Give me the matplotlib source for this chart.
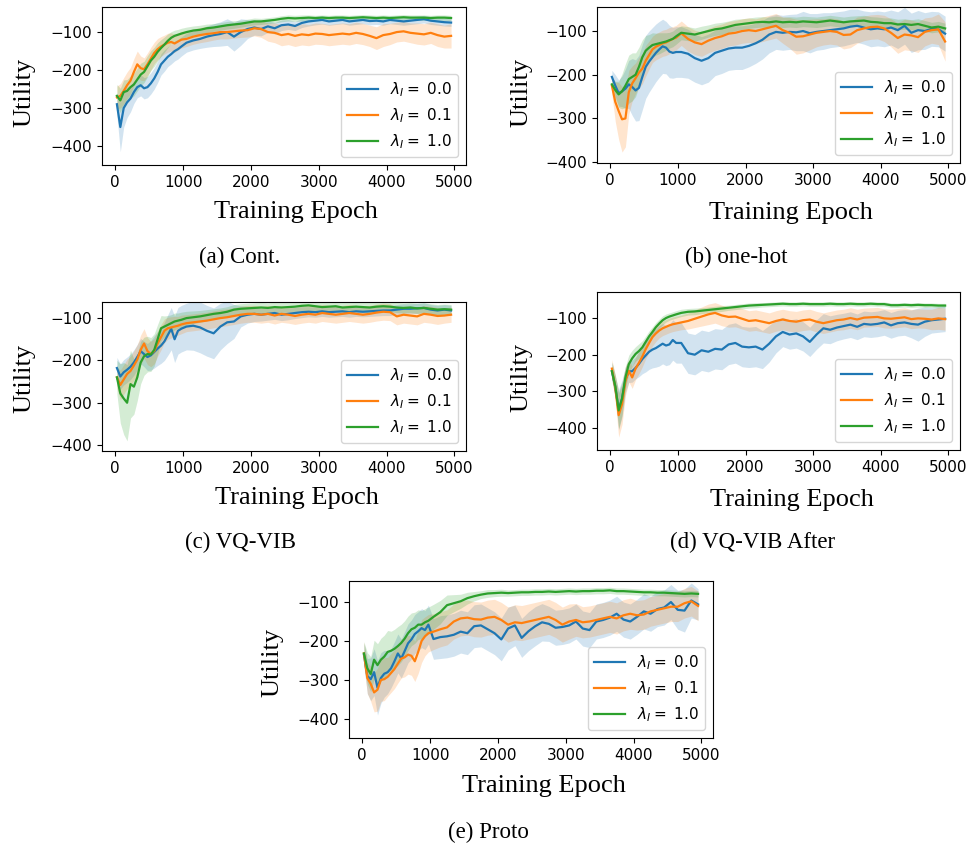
import matplotlib
matplotlib.use("Agg")
from matplotlib import pyplot as plt
import numpy as np

# epochs at which the running utility was logged (denser early on)
epochs = list(range(25, 1000, 50)) + list(range(1050, 5000, 100))
lambdas = ["0.0", "0.1", "1.0"]
colors = ["tab:blue", "tab:orange", "tab:green"]

# ---- (a) Cont. ----
cont_00 = [-290, -350, -300, -285, -275, -258, -245, -240, -248, -245, -235, -222, -205, -185, -175, -165, -158, -150, -145, -138,
           -128, -122, -118, -112, -108, -105, -100, -112, -100, -92, -88, -92, -85, -90, -82, -80, -84, -76, -72, -70,
           -68, -72, -70, -68, -72, -70, -68, -71, -70, -72, -68, -70, -72, -70, -68, -66, -70, -72, -74, -75]
cont_01 = [-272, -268, -255, -240, -228, -205, -185, -195, -198, -185, -170, -155, -145, -138, -133, -128, -126, -130, -125, -120,
           -118, -112, -108, -105, -103, -100, -100, -98, -96, -95, -90, -92, -100, -102, -108, -105, -110, -106, -108, -104,
           -105, -108, -106, -104, -106, -102, -105, -110, -116, -108, -105, -100, -98, -102, -104, -106, -102, -108, -112, -110]
cont_10 = [-268, -280, -258, -255, -245, -238, -225, -212, -205, -190, -175, -165, -152, -142, -133, -123, -115, -110, -107, -104,
           -100, -96, -94, -90, -88, -85, -82, -80, -78, -75, -72, -72, -70, -68, -65, -63, -64, -63, -62, -63,
           -62, -63, -62, -62, -63, -62, -61, -62, -63, -62, -63, -62, -61, -62, -62, -62, -63, -62, -62, -63]
cont_00_sd = [30, 65, 50, 40, 35, 30, 28, 28, 28, 28, 28, 28, 28, 28, 28, 26, 26, 26, 26, 25,
              25, 25, 25, 28, 30, 32, 35, 38, 35, 25, 20, 18, 16, 15, 14, 13, 12, 12, 12, 11,
              11, 10, 10, 10, 10, 10, 10, 10, 10, 10, 10, 10, 10, 10, 10, 10, 10, 10, 10, 10]
cont_01_sd = [30, 32, 35, 35, 35, 35, 35, 32, 30, 30, 30, 28, 28, 26, 25, 25, 24, 24, 22, 22,
              20, 20, 20, 20, 18, 18, 18, 18, 18, 18, 20, 22, 24, 26, 28, 28, 28, 28, 28, 28,
              28, 28, 28, 28, 28, 28, 28, 28, 30, 30, 28, 26, 26, 26, 28, 28, 28, 30, 30, 32]
cont_10_sd = [30, 32, 32, 30, 30, 30, 30, 30, 28, 28, 26, 25, 24, 22, 20, 18, 16, 15, 14, 14,
              13, 12, 12, 11, 10, 10, 10, 10, 9, 9, 9, 8, 8, 8, 8, 8, 8, 8, 7, 7,
              7, 7, 7, 7, 7, 7, 7, 7, 7, 7, 7, 7, 7, 7, 7, 7, 7, 7, 7, 7]

# ---- (b) one-hot ----
onehot_00 = [-205, -225, -242, -238, -232, -222, -228, -236, -230, -205, -182, -170, -160, -150, -142, -135, -138, -147, -150, -148,
             -148, -152, -162, -168, -162, -150, -145, -140, -138, -138, -134, -128, -120, -108, -102, -104, -102, -103, -100, -105,
             -102, -100, -98, -96, -94, -90, -88, -92, -96, -94, -96, -92, -98, -88, -104, -98, -100, -95, -96, -106]
onehot_01 = [-225, -262, -283, -302, -300, -240, -220, -208, -195, -186, -168, -155, -142, -136, -132, -128, -126, -122, -118, -115,
             -105, -118, -126, -130, -122, -116, -112, -106, -104, -100, -98, -100, -96, -92, -88, -98, -104, -113, -112, -108,
             -104, -102, -100, -102, -109, -108, -98, -94, -91, -90, -94, -104, -116, -108, -110, -114, -102, -98, -96, -124]
onehot_10 = [-222, -235, -245, -238, -225, -210, -205, -200, -182, -160, -145, -138, -132, -130, -128, -126, -124, -121, -118, -112,
             -104, -106, -108, -104, -100, -96, -94, -90, -86, -84, -82, -80, -79, -80, -78, -80, -79, -80, -78, -79,
             -80, -78, -76, -78, -80, -78, -77, -76, -79, -80, -82, -82, -85, -84, -86, -84, -88, -92, -90, -94]
onehot_00_sd = [15, 25, 30, 35, 45, 55, 65, 70, 75, 75, 72, 70, 68, 66, 64, 62, 60, 60, 58, 58,
                58, 56, 55, 55, 55, 52, 52, 50, 50, 50, 48, 46, 44, 42, 40, 40, 40, 42, 45, 45,
                42, 42, 40, 40, 40, 40, 38, 38, 40, 40, 40, 40, 42, 42, 45, 45, 42, 40, 40, 40]
onehot_01_sd = [20, 45, 65, 75, 65, 50, 40, 35, 35, 35, 35, 32, 30, 30, 30, 30, 30, 30, 28, 28,
                28, 28, 28, 28, 28, 28, 28, 28, 28, 28, 28, 28, 28, 28, 28, 30, 35, 40, 38, 35,
                32, 30, 30, 30, 32, 30, 30, 28, 28, 28, 30, 32, 35, 35, 35, 35, 32, 30, 35, 45]
onehot_10_sd = [15, 20, 30, 40, 50, 55, 55, 50, 45, 40, 35, 30, 28, 25, 24, 22, 20, 18, 18, 18,
                16, 16, 15, 15, 14, 14, 14, 13, 13, 12, 12, 12, 12, 12, 12, 12, 12, 12, 12, 12,
                12, 12, 12, 12, 12, 12, 12, 12, 12, 12, 12, 12, 12, 12, 12, 12, 12, 12, 12, 12]

# ---- (c) VQ-VIB ----
vq_00 = [-218, -238, -228, -222, -215, -205, -192, -178, -185, -192, -188, -180, -172, -165, -155, -140, -125, -150, -130, -125,
         -120, -118, -122, -130, -136, -120, -110, -108, -96, -92, -90, -92, -90, -88, -92, -90, -88, -86, -85, -86,
         -84, -86, -85, -84, -86, -84, -85, -84, -83, -82, -82, -80, -78, -78, -77, -76, -80, -82, -80, -82]
vq_01 = [-240, -258, -245, -232, -225, -212, -198, -175, -160, -178, -185, -178, -160, -145, -130, -124, -122, -120, -118, -115,
         -112, -110, -108, -106, -103, -100, -98, -95, -92, -90, -90, -92, -90, -94, -90, -92, -95, -92, -90, -92,
         -88, -90, -92, -90, -88, -90, -92, -90, -87, -85, -86, -96, -92, -94, -96, -90, -92, -95, -94, -92]
vq_10 = [-240, -278, -290, -300, -256, -262, -240, -205, -190, -185, -186, -175, -150, -124, -120, -116, -112, -108, -106, -104,
         -100, -98, -96, -93, -90, -88, -85, -80, -78, -77, -76, -75, -76, -74, -75, -74, -73, -71, -70, -72,
         -74, -73, -72, -75, -74, -73, -74, -75, -73, -72, -73, -75, -76, -75, -77, -76, -78, -80, -79, -80]
vq_00_sd = [25, 30, 30, 30, 30, 30, 30, 30, 30, 32, 35, 38, 40, 42, 45, 48, 50, 55, 55, 55,
            55, 58, 60, 60, 60, 55, 50, 40, 25, 20, 18, 15, 15, 15, 14, 14, 13, 13, 12, 12,
            12, 12, 12, 12, 12, 12, 12, 12, 12, 12, 12, 12, 12, 12, 12, 12, 12, 12, 12, 12]
vq_01_sd = [25, 35, 35, 35, 35, 35, 35, 35, 35, 32, 30, 30, 30, 30, 28, 26, 25, 24, 22, 22,
            20, 20, 20, 20, 20, 20, 20, 20, 20, 20, 20, 20, 20, 20, 20, 20, 20, 20, 20, 20,
            20, 20, 20, 20, 20, 20, 20, 20, 20, 20, 20, 20, 20, 20, 20, 20, 20, 20, 18, 18]
vq_10_sd = [40, 70, 85, 90, 80, 65, 55, 50, 45, 42, 40, 38, 35, 30, 25, 22, 20, 20, 18, 18,
            16, 15, 14, 13, 12, 12, 12, 12, 12, 12, 12, 12, 12, 12, 12, 12, 12, 12, 12, 12,
            12, 12, 12, 12, 12, 12, 12, 12, 12, 12, 12, 12, 12, 12, 12, 12, 12, 12, 12, 12]

# ---- (d) VQ-VIB After ----
after_00 = [-245, -288, -350, -320, -268, -246, -245, -236, -225, -212, -202, -192, -186, -182, -176, -170, -175, -172, -160, -168,
            -168, -196, -200, -188, -192, -184, -186, -172, -168, -178, -180, -178, -186, -170, -150, -138, -145, -142, -150, -165,
            -145, -128, -132, -126, -122, -118, -124, -116, -118, -116, -112, -120, -114, -112, -116, -118, -110, -106, -104, -102]
after_01 = [-238, -290, -365, -335, -272, -244, -262, -238, -222, -205, -185, -168, -152, -142, -134, -128, -124, -120, -117, -115,
            -112, -108, -102, -96, -90, -86, -93, -97, -96, -102, -108, -106, -110, -114, -108, -104, -108, -110, -106, -104,
            -110, -114, -110, -106, -104, -100, -104, -99, -98, -97, -101, -102, -100, -98, -103, -101, -102, -104, -101, -103]
after_10 = [-245, -285, -352, -320, -262, -226, -210, -198, -190, -180, -165, -150, -138, -125, -115, -106, -100, -96, -93, -90,
            -86, -83, -82, -80, -78, -76, -74, -72, -70, -68, -66, -65, -64, -63, -62, -61, -62, -62, -61, -62,
            -62, -62, -61, -62, -62, -61, -62, -62, -61, -62, -62, -65, -65, -64, -65, -64, -65, -65, -66, -66]
after_00_sd = [25, 30, 55, 50, 35, 30, 30, 30, 35, 40, 45, 48, 50, 52, 55, 55, 55, 55, 55, 55,
               55, 55, 55, 55, 55, 55, 55, 55, 55, 55, 55, 55, 52, 50, 45, 40, 40, 40, 40, 40,
               40, 40, 38, 36, 35, 35, 35, 35, 35, 35, 35, 35, 35, 35, 38, 45, 40, 35, 35, 35]
after_01_sd = [25, 35, 60, 55, 40, 30, 30, 30, 30, 28, 26, 25, 24, 22, 20, 20, 20, 20, 20, 20,
               20, 22, 24, 26, 28, 28, 28, 28, 28, 28, 28, 28, 28, 28, 28, 28, 28, 28, 28, 28,
               28, 28, 28, 28, 28, 28, 28, 26, 26, 26, 26, 26, 26, 26, 26, 26, 26, 28, 30, 30]
after_10_sd = [25, 30, 50, 45, 30, 25, 22, 20, 20, 18, 16, 15, 14, 13, 12, 12, 11, 10, 10, 10,
               10, 9, 9, 8, 8, 8, 8, 7, 7, 7, 7, 7, 6, 6, 6, 6, 6, 6, 6, 6,
               6, 6, 6, 6, 6, 6, 6, 6, 6, 6, 6, 6, 6, 6, 6, 6, 6, 6, 6, 6]

# ---- (e) Proto ----
proto_00 = [-235, -290, -298, -280, -320, -295, -284, -280, -270, -252, -232, -245, -226, -206, -196, -182, -175, -167, -172, -158,
            -195, -190, -188, -184, -176, -180, -162, -160, -170, -180, -196, -168, -160, -192, -175, -162, -152, -156, -166, -164,
            -160, -150, -168, -172, -150, -146, -140, -130, -145, -150, -138, -124, -130, -118, -114, -100, -120, -122, -96, -106]
proto_01 = [-232, -295, -310, -332, -325, -300, -298, -292, -282, -272, -258, -245, -242, -235, -238, -252, -228, -200, -188, -180,
            -176, -170, -165, -150, -142, -140, -144, -145, -140, -138, -146, -158, -152, -154, -150, -146, -142, -138, -146, -158,
            -150, -146, -152, -150, -146, -142, -138, -142, -134, -130, -134, -132, -124, -120, -116, -112, -112, -103, -98, -110]
proto_10 = [-232, -270, -285, -248, -262, -248, -240, -228, -225, -220, -213, -205, -194, -180, -170, -166, -158, -158, -152, -148,
            -138, -126, -108, -103, -98, -90, -85, -81, -78, -77, -76, -77, -76, -75, -75, -74, -74, -73, -74, -73,
            -72, -73, -72, -72, -71, -71, -70, -72, -72, -73, -74, -75, -75, -76, -76, -77, -78, -79, -78, -79]
proto_00_sd = [30, 45, 55, 60, 70, 65, 60, 55, 50, 50, 50, 50, 50, 50, 50, 50, 50, 50, 50, 50,
               52, 55, 55, 55, 55, 55, 55, 55, 55, 55, 55, 55, 52, 50, 50, 50, 48, 45, 45, 45,
               45, 45, 45, 45, 45, 45, 45, 45, 45, 45, 45, 45, 45, 45, 45, 45, 50, 55, 45, 40]
proto_01_sd = [30, 40, 45, 50, 55, 55, 55, 50, 50, 50, 50, 50, 50, 50, 50, 52, 55, 55, 50, 48,
               46, 45, 45, 45, 45, 45, 45, 45, 45, 45, 45, 45, 45, 45, 45, 45, 45, 45, 45, 45,
               45, 42, 40, 40, 40, 40, 40, 40, 40, 40, 38, 38, 38, 38, 38, 38, 38, 38, 38, 38]
proto_10_sd = [30, 40, 45, 50, 55, 55, 55, 55, 50, 50, 50, 48, 46, 44, 42, 40, 38, 36, 35, 35,
               32, 30, 26, 22, 18, 15, 12, 10, 10, 9, 9, 8, 8, 8, 8, 8, 8, 8, 8, 8,
               8, 8, 8, 8, 8, 8, 8, 8, 8, 8, 8, 8, 8, 8, 8, 8, 8, 8, 8, 8]

W, H = 972, 848
serif = "Liberation Serif"

# caption, means, spreads, ylim, axes box in px (left, top, right, bottom),
# xlabel centre / top (axes fraction), ylabel right edge / centre, caption pos (px)
panels = [
    ("(a) Cont.", [cont_00, cont_01, cont_10], [cont_00_sd, cont_01_sd, cont_10_sd],
     (-450, -34), (102, 7, 466, 165), (0.533, -0.228), (-0.184, 0.462), (240, 263)),
    ("(b) one-hot", [onehot_00, onehot_01, onehot_10], [onehot_00_sd, onehot_01_sd, onehot_10_sd],
     (-402, -45), (597, 7, 960, 163), (0.534, -0.250), (-0.179, 0.455), (736, 263)),
    ("(c) VQ-VIB", [vq_00, vq_01, vq_10], [vq_00_sd, vq_01_sd, vq_10_sd],
     (-414, -62), (102, 302, 466, 451), (0.535, -0.242), (-0.184, 0.49), (240, 548)),
    ("(d) VQ-VIB After", [after_00, after_01, after_10], [after_00_sd, after_01_sd, after_10_sd],
     (-460, -29), (597, 292, 960, 450), (0.537, -0.247), (-0.179, 0.462), (753, 548)),
    ("(e) Proto", [proto_00, proto_01, proto_10], [proto_00_sd, proto_01_sd, proto_10_sd],
     (-449, -46), (349, 581, 713, 738), (0.536, -0.236), (-0.181, 0.484), (488, 838)),
]

fig = plt.figure(figsize=(W / 100, H / 100), dpi=100)
x = np.array(epochs)

for caption, means, sds, ylim, box, xl, yl, cap in panels:
    l, t, r, b = box
    ax = fig.add_axes([l / W, 1 - b / H, (r - l) / W, (b - t) / H])
    for lam, c, m, s in zip(lambdas, colors, means, sds):
        m, s = np.array(m), np.array(s)
        ax.fill_between(x, m - s, m + s, color=c, alpha=0.2, linewidth=0)
        ax.plot(x, m, color=c, linewidth=1.6, label=r"$\lambda_I=$ " + lam)
    ax.set_xlim(-195, 5170)
    ax.set_ylim(*ylim)
    ax.set_xticks([0, 1000, 2000, 3000, 4000, 5000])
    ax.set_yticks([-400, -300, -200, -100])
    ax.tick_params(labelsize=11)
    ax.set_xlabel("Training Epoch", fontsize=19, family=serif)
    ax.set_ylabel("Utility", fontsize=19, family=serif)
    ax.xaxis.set_label_coords(*xl)
    ax.yaxis.set_label_coords(*yl)
    ax.legend(loc="lower right", fontsize=11)
    fig.text(cap[0] / W, 1 - cap[1] / H, caption, ha="center", va="baseline",
             fontsize=16.5, family=serif)

fig.savefig("out.png", dpi=100)
